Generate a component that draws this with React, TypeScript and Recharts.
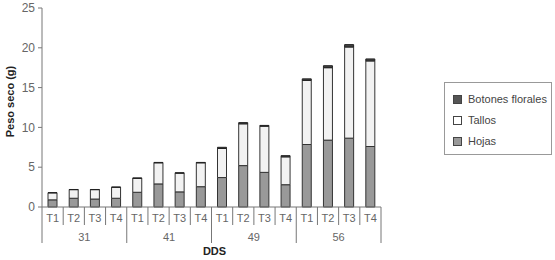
import React from 'react';
import { BarChart, Bar, XAxis, YAxis } from 'recharts';

const tratamientos = ['T1', 'T2', 'T3', 'T4'];
const dds = ['31', '41', '49', '56'];

const hojas = [0.9, 1.1, 1.0, 1.1, 1.85, 2.9, 1.9, 2.55, 3.7, 5.2, 4.35, 2.8, 7.85, 8.4, 8.65, 7.6];
const tallos = [0.88, 1.08, 1.18, 1.38, 1.75, 2.65, 2.35, 3.0, 3.65, 5.25, 5.8, 3.5, 8.05, 9.1, 11.45, 10.75];
const botones = [0.02, 0.02, 0.02, 0.02, 0.05, 0.05, 0.05, 0.05, 0.15, 0.15, 0.1, 0.15, 0.2, 0.25, 0.3, 0.25];

const yTicks = [0, 5, 10, 15, 20, 25];

const data = hojas.map((h, i) => ({
  key: `${dds[Math.floor(i / 4)]}-${tratamientos[i % 4]}`,
  t: tratamientos[i % 4],
  g: dds[Math.floor(i / 4)],
  Hojas: h,
  Tallos: tallos[i],
  Botones: botones[i]
}));

const FONT = '"Liberation Sans", Arial, sans-serif';
const LINE = '#777';

// two-level category axis: treatment on the first row, DDS group on the second
const TwoLevelTick = (props: any) => {
  const { x, y, payload, index } = props;
  const off = payload.offset || 0;
  const groupEnd = index % 4 === 3;
  const row = data[index];
  return (
    <g>
      <text x={x} y={y + 15} textAnchor="middle" fontSize={11} fill="#666" fontFamily={FONT}>
        {row ? row.t : payload.value}
      </text>
      {index % 4 === 1 && row && (
        <text x={x + off} y={y + 34} textAnchor="middle" fontSize={11} fill="#666" fontFamily={FONT}>
          {row.g}
        </text>
      )}
      <line x1={x + off} x2={x + off} y1={y} y2={y + (groupEnd ? 36 : 18)} stroke={LINE} />
      {index === 0 && <line x1={x - off} x2={x - off} y1={y} y2={y + 36} stroke={LINE} />}
    </g>
  );
};

const YLabel = (props: any) => {
  const vb = props.viewBox || {};
  const cx = 10;
  const cy = vb.y + vb.height / 2 - 6;
  return (
    <text
      x={cx}
      y={cy}
      transform={`rotate(-90 ${cx} ${cy})`}
      textAnchor="middle"
      dominantBaseline="central"
      fontSize={11}
      fontWeight="bold"
      fill="#222"
      fontFamily={FONT}
    >
      Peso seco (g)
    </text>
  );
};

const XLabel = (props: any) => {
  const vb = props.viewBox || {};
  return (
    <text
      x={vb.x + vb.width / 2 + 3}
      y={vb.y + vb.height + 12}
      textAnchor="middle"
      fontSize={11}
      fontWeight="bold"
      fill="#222"
      fontFamily={FONT}
    >
      DDS
    </text>
  );
};

const legendItems = [
  { name: 'Botones florales', fill: '#555' },
  { name: 'Tallos', fill: '#fff' },
  { name: 'Hojas', fill: '#999' }
];

const LegendBox = () => (
  <div
    style={{
      position: 'absolute',
      left: 444,
      top: 82,
      border: '1px solid #999',
      width: 108,
      height: 73,
      boxSizing: 'border-box',
      padding: '6px 0 0 8px',
      fontFamily: FONT,
      fontSize: 11,
      color: '#444',
      lineHeight: '11px'
    }}
  >
    {legendItems.map((it) => (
      <div key={it.name} style={{ display: 'flex', alignItems: 'center', height: 21 }}>
        <span
          style={{
            display: 'inline-block',
            width: 7,
            height: 7,
            background: it.fill,
            border: '1px solid #444',
            marginRight: 6
          }}
        />
        {it.name}
      </div>
    ))}
  </div>
);

export default function App() {
  return (
    <div style={{ position: 'absolute', left: 0, top: 0, width: 555, height: 260, background: '#fff' }}>
      <BarChart
        width={555}
        height={260}
        data={data}
        margin={{ top: 8, right: 174, left: 0, bottom: 17 }}
        barSize={9}
      >
        <YAxis
          domain={[0, 25]}
          ticks={yTicks}
          width={42}
          tickSize={4}
          tickMargin={3}
          tick={{ fontSize: 12, fill: '#666', fontFamily: FONT }}
          axisLine={{ stroke: LINE }}
          tickLine={{ stroke: LINE }}
          label={<YLabel />}
        />
        <XAxis
          dataKey="key"
          height={36}
          interval={0}
          tickSize={0}
          tickMargin={0}
          tickLine={false}
          axisLine={{ stroke: LINE }}
          tick={<TwoLevelTick />}
          label={<XLabel />}
        />
        <Bar dataKey="Hojas" stackId="a" fill="#999" stroke="#333" isAnimationActive={false} />
        <Bar dataKey="Tallos" stackId="a" fill="#f2f2f2" stroke="#333" isAnimationActive={false} />
        <Bar dataKey="Botones" stackId="a" fill="#444" stroke="#222" isAnimationActive={false} />
      </BarChart>
      <LegendBox />
    </div>
  );
}
